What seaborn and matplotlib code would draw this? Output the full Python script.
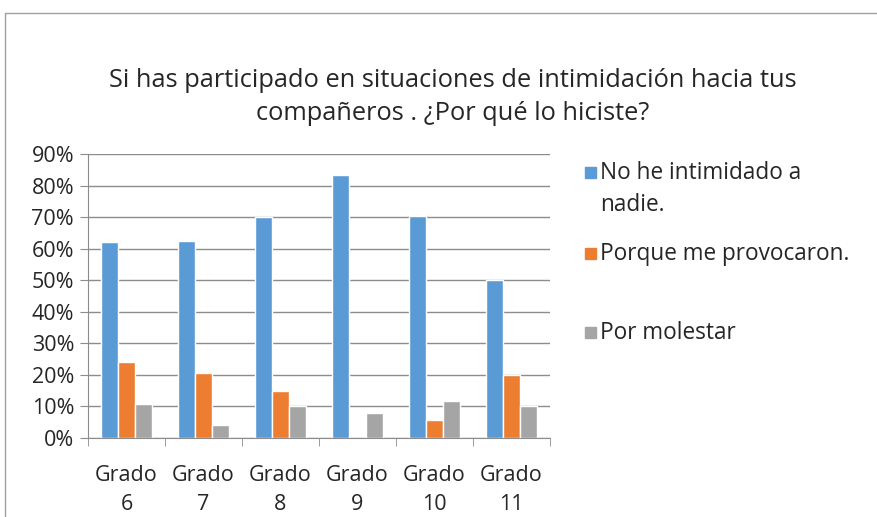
import numpy as np
import pandas as pd
import matplotlib
matplotlib.use("Agg")
import matplotlib.pyplot as plt
import matplotlib.patches as mpatches
from matplotlib.lines import Line2D
from matplotlib.ticker import PercentFormatter
import seaborn as sns

# Datos
grados = ["Grado\n6", "Grado\n7", "Grado\n8", "Grado\n9", "Grado\n10", "Grado\n11"]
series = ["No he intimidado a\nnadie.", "Porque me provocaron.", "Por molestar"]
no_intimidado = [0.62, 0.624, 0.70, 0.833, 0.705, 0.50]
provocaron = [0.242, 0.207, 0.148, 0.0, 0.057, 0.20]
molestar = [0.107, 0.04, 0.10, 0.08, 0.116, 0.10]
colores = ["#5B9BD5", "#ED7D31", "#A5A5A5"]

df = pd.DataFrame({
    "grado": grados * 3,
    "serie": [series[0]] * 6 + [series[1]] * 6 + [series[2]] * 6,
    "valor": no_intimidado + provocaron + molestar,
})

sns.set_style("white")
plt.rcParams["font.family"] = ["Open Sans", "DejaVu Sans"]

fig = plt.figure(figsize=(8.77, 5.17), dpi=100)
ax = fig.add_axes([88 / 877, 1 - 438 / 517, (550 - 88) / 877, (438 - 154) / 517])

sns.barplot(data=df, x="grado", y="valor", hue="serie", palette=colores,
            width=0.65, gap=0, saturation=1, legend=False, ax=ax)

ax.set_ylim(0, 0.9)
ax.set_xlim(-0.5, 5.5)
ax.set_yticks(np.arange(0, 0.91, 0.1))
ax.yaxis.set_major_formatter(PercentFormatter(1.0, decimals=0))
ax.grid(axis="y", color="#8C8C8C", linewidth=1)
ax.set_axisbelow(True)
ax.set_xlabel("")
ax.set_ylabel("")
for s in ["top", "right"]:
    ax.spines[s].set_visible(False)
ax.spines["left"].set_color("#8C8C8C")
ax.spines["bottom"].set_color("#8C8C8C")
ax.tick_params(axis="y", left=True, length=6, color="#8C8C8C", labelsize=15.5, pad=4)
ax.tick_params(axis="x", bottom=False, labelsize=15.5, pad=16)
ax.set_xticks(np.arange(-0.5, 6, 1), minor=True)
ax.tick_params(axis="x", which="minor", bottom=True, length=6, color="#8C8C8C")
for lbl in ax.get_xticklabels():
    lbl.set_linespacing(1.5)

fig.text(453 / 877, 1 - 97 / 517,
         "Si has participado en situaciones de intimidación hacia tus\ncompañeros . ¿Por qué lo hiciste?",
         ha="center", va="center", fontsize=18.3, linespacing=1.45)

# Leyenda manual a la derecha
ley_y = [173, 254, 333]
for y, c, t in zip(ley_y, colores, series):
    fig.patches.append(mpatches.Rectangle((585 / 877, 1 - (y + 5) / 517), 11 / 877, 11 / 517,
                                          transform=fig.transFigure, color=c))
    for i, linea in enumerate(t.split("\n")):
        fig.text(600 / 877, 1 - (y + 32 * i) / 517, linea, ha="left", va="center",
                 fontsize=16.3)

# Borde del área del gráfico
fig.lines.append(Line2D([5 / 877, 1], [1 - 13 / 517, 1 - 13 / 517], transform=fig.transFigure,
                        color="#A0A0A0", linewidth=1))
fig.lines.append(Line2D([5 / 877, 5 / 877], [0, 1 - 13 / 517], transform=fig.transFigure,
                        color="#A0A0A0", linewidth=1))

fig.savefig("out.png", dpi=100)
